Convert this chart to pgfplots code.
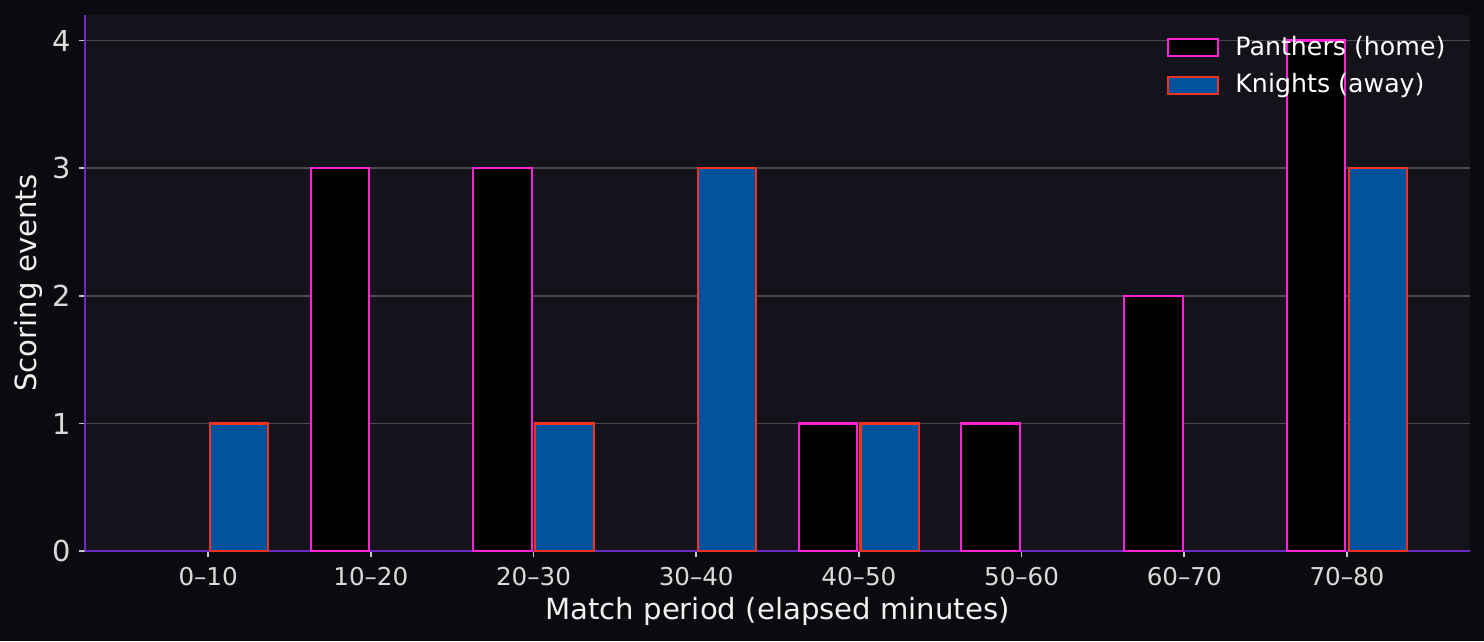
\documentclass[border=0pt]{standalone}
\usepackage{fontspec}
\setmainfont{DejaVu Sans}
\usepackage{pgfplots}
\pgfplotsset{compat=1.18}

\definecolor{outerbg}{HTML}{0B0B0F}
\definecolor{plotbg}{HTML}{12131B}
\definecolor{knightblue}{HTML}{00539C}
\definecolor{panedge}{HTML}{FF22D4}
\definecolor{knightedge}{HTML}{EE3322}
\definecolor{spine}{HTML}{6A2CC4}
\definecolor{gridgray}{HTML}{46464C}
\definecolor{tickgray}{HTML}{C8C8C8}
\definecolor{tickcol}{HTML}{DADADA}
\definecolor{labelcol}{HTML}{F0F0F0}

\pgfplotsset{
  patchlegend/.style={legend image code/.code={\draw[##1] (0pt,-3.05pt) rectangle (18pt,3.05pt);}},
}

\begin{document}
\begin{tikzpicture}
\fill[outerbg] (-30.6pt,-32.4pt) rectangle (503.6pt,198.4pt);
\begin{axis}[
  scale only axis, width=498.6pt, height=193pt,
  at={(0,0)}, anchor=south west,
  xmin=-0.757, xmax=7.757, ymin=0, ymax=4.2,
  axis background/.style={fill=plotbg},
  axis x line*=bottom, axis y line*=left,
  axis line style={draw=spine, line width=0.75pt, -},
  xtick={0,...,7},
  xticklabels={0–10,10–20,20–30,30–40,40–50,50–60,60–70,70–80},
  ytick={0,1,2,3,4},
  tick align=outside, major tick length=2.2pt,
  tick style={draw=tickgray, line width=0.6pt},
  ymajorgrids, grid style={draw=gridgray, line width=0.6pt},
  /pgf/number format/assume math mode=true,
  yticklabel style={font=\fontsize{10.4}{12}\selectfont, text=tickcol, xshift=0.7pt},
  xticklabel style={font=\fontsize{8.85}{10}\selectfont, text=tickcol},
  xlabel={Match period (elapsed minutes)},
  ylabel={Scoring events},
  xlabel style={font=\fontsize{10.5}{12}\selectfont, text=labelcol,
    at={(axis description cs:0.5,0)}, yshift=-21.6pt, anchor=center},
  ylabel style={font=\fontsize{10.5}{12}\selectfont, text=labelcol,
    at={(axis description cs:-0.0411,0.5)}, anchor=center},
  legend style={draw=none, fill=none, at={(axis description cs:0.7805,0.972)},
    anchor=north west, inner sep=0pt, font=\fontsize{9.1}{11}\selectfont,
    text=white, row sep=1pt, /tikz/every odd column/.append style={column sep=4pt}},
  legend cell align=left,
]
% Panthers (home): zero periods left out
\addplot[ybar, bar width=0.36, bar shift=-0.19, fill=black, draw=panedge,
  line width=0.75pt, patchlegend]
  coordinates {(1,3) (2,3) (4,1) (5,1) (6,2) (7,4)};
\addlegendentry{Panthers (home)}
% Knights (away)
\addplot[ybar, bar width=0.36, bar shift=0.19, fill=knightblue, draw=knightedge,
  line width=0.75pt, patchlegend]
  coordinates {(0,1) (2,1) (3,3) (4,1) (7,3)};
\addlegendentry{Knights (away)}
\end{axis}
\pgfresetboundingbox
\path[use as bounding box] (-30.6pt,-32.4pt) rectangle (503.6pt,198.4pt);
\end{tikzpicture}
\end{document}
